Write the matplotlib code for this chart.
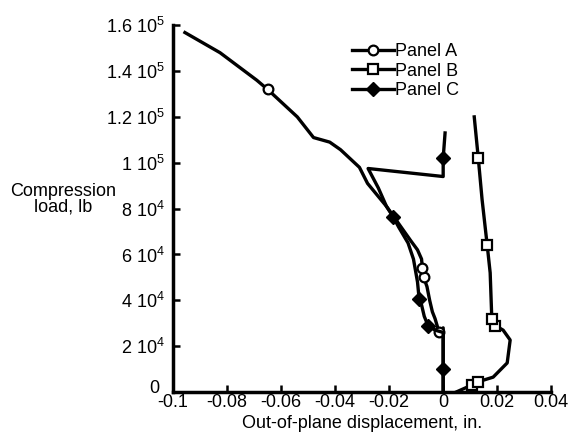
import matplotlib.pyplot as plt
import matplotlib.transforms as mtransforms

plt.rcParams['font.family'] = ['Liberation Sans', 'DejaVu Sans']
plt.rcParams['mathtext.fontset'] = 'custom'
plt.rcParams['mathtext.rm'] = 'Liberation Sans'

# Panel A (open circles)
disp_a = [0, 0, -0.0015, -0.003, -0.004, -0.005, -0.006, -0.0072, -0.0077, -0.008,
          -0.0095, -0.012, -0.015, -0.018, -0.021, -0.028, -0.031, -0.038, -0.042,
          -0.048, -0.054, -0.065, -0.069, -0.0826, -0.0956]
load_a = [0, 2.8e4, 2.6e4, 3.2e4, 3.5e4, 4.0e4, 4.6e4, 5.0e4, 5.4e4, 5.8e4,
          6.2e4, 6.6e4, 7.1e4, 7.6e4, 8.1e4, 9.1e4, 9.8e4, 1.057e5, 1.09e5,
          1.11e5, 1.20e5, 1.32e5, 1.36e5, 1.48e5, 1.568e5]
marks_a = [2, 7, 8, 21]

# Panel B (open squares)
disp_b = [0.0048, 0.0105, 0.013, 0.0185, 0.0237, 0.0248, 0.0222, 0.0193, 0.018,
          0.0174, 0.0163, 0.0144, 0.013, 0.0115]
load_b = [0, 0.3e4, 0.45e4, 0.65e4, 1.27e4, 2.27e4, 2.7e4, 2.9e4, 3.2e4,
          5.2e4, 6.4e4, 8.4e4, 1.02e5, 1.2e5]
marks_b = [1, 2, 7, 8, 10, 12]

# Panel C (filled diamonds)
disp_c = [0, 0, 0, -0.003, -0.0056, -0.007, -0.008, -0.0089, -0.0095, -0.011,
          -0.013, -0.0165, -0.0185, -0.021, -0.024, -0.0278, 0, 0, 0.0007]
load_c = [0, 1.0e4, 2.6e4, 2.7e4, 2.9e4, 3.3e4, 3.8e4, 4.06e4, 4.8e4, 5.8e4,
          6.5e4, 7.2e4, 7.64e4, 8.1e4, 8.9e4, 9.75e4, 9.4e4, 1.02e5, 1.13e5]
marks_c = [1, 4, 7, 12, 17]

xticks = [-0.1, -0.08, -0.06, -0.04, -0.02, 0, 0.02, 0.04]
xtick_labels = ['-0.1', '-0.08', '-0.06', '-0.04', '-0.02', '0', '0.02', '0.04']
yticks = [0, 2e4, 4e4, 6e4, 8e4, 1e5, 1.2e5, 1.4e5, 1.6e5]
ytick_labels = ['0', '2 10$^4$', '4 10$^4$', '6 10$^4$', '8 10$^4$',
                '1 10$^5$', '1.2 10$^5$', '1.4 10$^5$', '1.6 10$^5$']

fig = plt.figure(figsize=(5.73, 4.42), dpi=100)
ax = fig.add_axes([0.302, 0.113, 0.66, 0.83])

lw = 2.4
ax.plot(disp_a, load_a, color='black', lw=lw, marker='o', markevery=marks_a,
        ms=7, mfc='white', mec='black', mew=1.6, label='Panel A')
ax.plot(disp_b, load_b, color='black', lw=lw, marker='s', markevery=marks_b,
        ms=7, mfc='white', mec='black', mew=1.6, label='Panel B')
ax.plot(disp_c, load_c, color='black', lw=lw, marker='D', markevery=marks_c,
        ms=7, mfc='black', mec='black', label='Panel C')

ax.set_xlim(-0.1, 0.04)
ax.set_ylim(0, 1.6e5)
ax.set_xticks(xticks)
ax.set_xticklabels(xtick_labels)
ax.set_yticks(yticks)
ax.set_yticklabels(ytick_labels)
ax.tick_params(direction='in', length=5, width=1.8, labelsize=13)
ax.tick_params(axis='y', pad=6)
ax.tick_params(axis='x', pad=1.5)

# lift the "0" label a little so it clears "-0.1"
zero_lbl = ax.get_yticklabels()[0]
zero_lbl.set_transform(zero_lbl.get_transform() +
                       mtransforms.ScaledTranslation(-4 / 72, 4 / 72, fig.dpi_scale_trans))

for side in ['top', 'right']:
    ax.spines[side].set_visible(False)
for side in ['left', 'bottom']:
    ax.spines[side].set_linewidth(2.5)

ax.set_xlabel('Out-of-plane displacement, in.', fontsize=13, labelpad=3)
ax.set_ylabel('Compression\nload, lb', fontsize=13, rotation=0,
              ha='center', va='center', linespacing=0.9)
ax.yaxis.set_label_coords(-0.29, 0.525)

ax.legend(frameon=False, loc='upper left', bbox_to_anchor=(352 / 573, 1 - 43 / 442),
          bbox_transform=fig.transFigure, borderpad=0, borderaxespad=0,
          handlelength=2.3, handletextpad=0.1, labelspacing=0.15, fontsize=13)

fig.savefig('out.png', dpi=100)
